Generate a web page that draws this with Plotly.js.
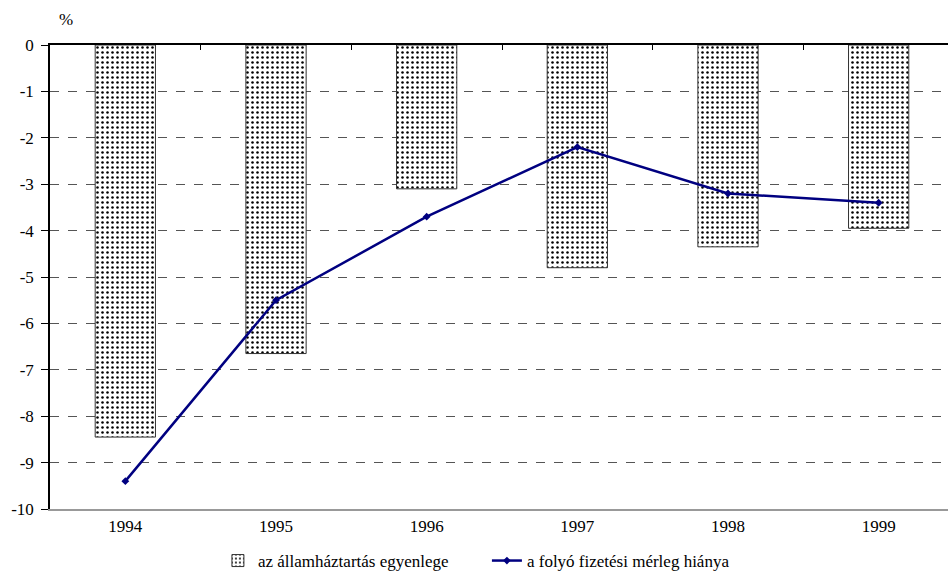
<!DOCTYPE html>
<html>
<head>
<meta charset="utf-8">
<script src="https://cdn.plot.ly/plotly-3.0.1.min.js"></script>
<style>
html,body{margin:0;padding:0;background:#fff;overflow:hidden;}
#chart{position:absolute;left:0;top:0;width:960px;height:579px;}
</style>
</head>
<body>
<div id="chart"></div>
<script>
// Years and the two series (% of GDP)
const years = ['1994', '1995', '1996', '1997', '1998', '1999'];
const budgetBalance = [-8.45, -6.65, -3.1, -4.8, -4.35, -3.95];
const currentAccountDeficit = [-9.4, -5.5, -3.7, -2.2, -3.2, -3.4];
const yTicks = [0, -1, -2, -3, -4, -5, -6, -7, -8, -9, -10];
const barName = 'az államháztartás egyenlege';
const lineName = 'a folyó fizetési mérleg hiánya';

// fresh font object for every place that needs one
function serif() {
  return {family: 'Liberation Serif', size: 17, color: '#000'};
}

const traces = [
  {
    type: 'bar',
    x: years,
    y: budgetBalance,
    name: barName,
    width: 0.4,
    marker: {
      color: '#fff',
      line: {color: '#333', width: 1},
      pattern: {shape: '.', fgcolor: '#000', bgcolor: '#fff', size: 5, solidity: 0.2}
    },
    hoverinfo: 'skip'
  },
  {
    type: 'scatter',
    mode: 'lines+markers',
    x: years,
    y: currentAccountDeficit,
    name: lineName,
    line: {color: '#000080', width: 2.5},
    marker: {symbol: 'diamond', size: 6, color: '#000080'},
    hoverinfo: 'skip'
  },
  {
    // invisible helper trace that carries the top axis with category separators
    type: 'scatter',
    x: [0, 5],
    y: [0, 0],
    xaxis: 'x2',
    mode: 'none',
    showlegend: false,
    hoverinfo: 'skip'
  }
];

const layout = {
  width: 960,
  height: 579,
  margin: {l: 50, r: 6, t: 45, b: 70},
  paper_bgcolor: '#fff',
  plot_bgcolor: '#fff',
  showlegend: true,
  xaxis: {
    type: 'category',
    range: [-0.5, 5.5],
    showline: true,
    linecolor: '#999',
    linewidth: 1.5,
    ticks: '',
    showgrid: false,
    zeroline: false,
    tickfont: serif(),
    ticklabelstandoff: 1
  },
  xaxis2: {
    overlaying: 'x',
    side: 'top',
    anchor: 'y',
    range: [-0.5, 5.5],
    tickvals: [0.5, 1.5, 2.5, 3.5, 4.5],
    showticklabels: false,
    ticks: 'inside',
    ticklen: 5,
    tickcolor: '#000',
    tickwidth: 1,
    showline: true,
    linecolor: '#000',
    linewidth: 1.5,
    showgrid: false,
    zeroline: false
  },
  yaxis: {
    range: [-10, 0],
    tickvals: yTicks,
    ticktext: yTicks.map(String),
    ticks: 'outside',
    ticklen: 7,
    tickcolor: '#000',
    showline: true,
    linecolor: '#000',
    linewidth: 1.5,
    showgrid: true,
    gridcolor: '#555',
    griddash: 'dash',
    gridwidth: 1,
    zeroline: false,
    tickfont: serif(),
    ticklabelstandoff: 4
  },
  annotations: [
    {
      text: '%',
      xref: 'paper', yref: 'paper',
      x: 0.0, y: 1,
      xshift: 7, yshift: 26,
      xanchor: 'left', yanchor: 'middle',
      showarrow: false,
      font: serif()
    }
  ],
  legend: {
    orientation: 'h',
    xref: 'container', yref: 'container',
    x: 0.227, y: 0.0,
    xanchor: 'left', yanchor: 'bottom',
    entrywidth: 224,
    entrywidthmode: 'pixels',
    font: serif(),
    bgcolor: 'rgba(0,0,0,0)',
    traceorder: 'normal'
  }
};

Plotly.newPlot('chart', traces, layout, {displayModeBar: false});
</script>
</body>
</html>
